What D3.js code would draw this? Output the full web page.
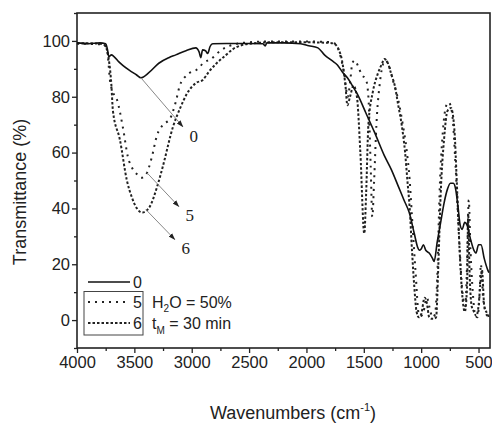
<!DOCTYPE html>
<html>
<head>
<meta charset="utf-8">
<script src="https://cdn.jsdelivr.net/npm/d3@7"></script>
<style>
  body { margin: 0; background: #fff; }
  svg { display: block; font-family: "Liberation Sans", Arial, sans-serif; }
  svg text { fill: #222; }
  .axis text { font-size: 16.5px; }
  .axis path, .axis line { stroke: #222; stroke-width: 1.3px; }
</style>
</head>
<body>
<svg id="main" width="492" height="424"></svg>
<script>
// spectra: [wavenumber (cm-1), transmittance (%)]
var sample0 = [
  [4000, 99.3], [3900, 99.0], [3800, 99.3], [3750, 99.0], [3735, 97], [3722, 94.3],
  [3700, 95], [3680, 94.5], [3635, 92.5], [3548, 89.6], [3480, 87.8], [3443, 86.8],
  [3374, 88.6], [3287, 92], [3200, 94], [3139, 95], [3050, 96.5], [2965, 97.5],
  [2935, 96], [2922, 94], [2905, 96.8], [2880, 96.5], [2861, 95.5], [2840, 98],
  [2817, 99], [2700, 99.1], [2500, 99.1], [2380, 99], [2360, 98.2], [2345, 99.3],
  [2200, 99.3], [2050, 99], [1980, 98.3], [1900, 97.5], [1843, 95], [1780, 93],
  [1730, 91.4], [1680, 88.5], [1643, 86.8], [1600, 84], [1557, 81], [1480, 74],
  [1409, 67.5], [1322, 59], [1261, 54], [1200, 48], [1150, 43], [1104, 38.5],
  [1060, 31], [1030, 26], [1017, 25], [1000, 25.5], [980, 27], [960, 25], [930, 24],
  [900, 22], [887, 21], [860, 28], [830, 35], [800, 42], [770, 47], [745, 49],
  [720, 49], [700, 47], [680, 41], [660, 34], [643, 32.5], [620, 35], [600, 34],
  [570, 29], [540, 25], [522, 24], [500, 27], [478, 27], [450, 22], [420, 18], [409, 17]
];

var sample5 = [
  [4000, 99], [3800, 98.8], [3760, 98.5], [3735, 96], [3713, 86], [3690, 82],
  [3652, 79], [3600, 69], [3557, 58.6], [3513, 54], [3470, 52], [3440, 51],
  [3400, 52], [3350, 58], [3304, 66], [3250, 70], [3191, 72], [3140, 78],
  [3104, 84], [3060, 87], [3017, 88.6], [2960, 89.6], [2900, 92], [2817, 94],
  [2750, 96.5], [2650, 98.5], [2500, 99.5], [2300, 99.8], [2000, 99.8],
  [1800, 99.6], [1750, 99], [1700, 94], [1670, 88], [1640, 80], [1620, 85],
  [1600, 92], [1580, 93], [1550, 91], [1520, 88], [1480, 86], [1460, 80],
  [1440, 55], [1426, 37], [1410, 50], [1390, 70], [1360, 85], [1330, 92],
  [1310, 93], [1280, 91], [1240, 85], [1200, 79], [1160, 70], [1130, 62],
  [1100, 50], [1080, 37], [1050, 18], [1020, 2], [1000, 1.5], [980, 3],
  [950, 8], [930, 5], [900, 1], [880, 2], [860, 15], [840, 45], [810, 68],
  [780, 77], [760, 78], [730, 74], [700, 55], [670, 30], [640, 10], [615, 5],
  [600, 20], [585, 43], [570, 25], [550, 10], [530, 2], [510, 1], [490, 10],
  [480, 20], [460, 8], [430, 2], [410, 1]
];

var sample6 = [
  [4000, 99.2], [3800, 99], [3760, 98.5], [3735, 96], [3700, 84], [3687, 75],
  [3626, 64.6], [3565, 50], [3522, 44], [3478, 40], [3430, 38.5], [3400, 39],
  [3365, 40.7], [3300, 48], [3252, 55], [3165, 69], [3100, 76], [3043, 81],
  [2960, 85], [2904, 86], [2850, 89], [2783, 92], [2700, 95], [2643, 97],
  [2496, 99], [2300, 99.5], [2000, 99.5], [1800, 99.3], [1760, 99], [1720, 97],
  [1690, 93], [1660, 84], [1643, 77], [1620, 80], [1590, 84], [1560, 80],
  [1530, 60], [1496, 31], [1480, 45], [1460, 70], [1420, 82], [1380, 88],
  [1340, 92], [1322, 93.5], [1290, 92], [1260, 88], [1230, 84], [1200, 77],
  [1170, 70], [1140, 60], [1120, 50], [1100, 40], [1080, 25], [1060, 12],
  [1040, 3], [1020, 1], [1000, 2], [970, 8], [950, 6], [930, 1], [910, 0.5],
  [890, 0.5], [870, 1], [850, 20], [830, 45], [800, 65], [770, 75], [740, 76],
  [710, 68], [690, 50], [665, 25], [640, 8], [620, 3], [600, 12], [590, 38],
  [580, 20], [560, 5], [540, 3], [520, 1.5], [500, 5], [480, 15], [470, 18],
  [450, 5], [420, 2], [410, 1]
];

var xTicks = [4000, 3500, 3000, 2500, 2000, 1500, 1000, 500];
var xMinor = [3750, 3250, 2750, 2250, 1750, 1250, 750];
var yTicks = [0, 20, 40, 60, 80, 100];
var yMinor = [-10, 10, 30, 50, 70, 90, 110];

// arrows: [from wn, from T, to wn, to T, label]
var arrows = [
  [3443, 86.8, 3078, 69.3, "0"],
  [3391, 52.8, 3113, 40.7, "5"],
  [3400, 39.6, 3148, 28.9, "6"]
];

var svg = d3.select("#main");
var margin = { left: 77, top: 13, right: 2, bottom: 76 };
var width = 492 - margin.left - margin.right;
var height = 424 - margin.top - margin.bottom;

var x = d3.scaleLinear().domain([4000, 400]).range([0, width]);
var y = d3.scaleLinear().domain([-10, 110]).range([height, 0]);

var g = svg.append("g").attr("transform", "translate(" + margin.left + "," + margin.top + ")");

svg.append("defs").append("marker")
  .attr("id", "head")
  .attr("viewBox", "0 0 10 10")
  .attr("refX", 9).attr("refY", 5)
  .attr("markerWidth", 7).attr("markerHeight", 7)
  .attr("orient", "auto")
  .append("path").attr("d", "M0,1.5L10,5L0,8.5Z").attr("fill", "#222");

// axes
g.append("g").attr("class", "axis").attr("transform", "translate(0," + height + ")")
  .call(d3.axisBottom(x).tickValues(xTicks).tickSize(5).tickPadding(3).tickFormat(d3.format("d")));
g.append("g").attr("class", "axis").attr("transform", "translate(0," + height + ")")
  .call(d3.axisBottom(x).tickValues(xMinor).tickSize(3).tickFormat(""));
g.append("g").attr("class", "axis")
  .call(d3.axisLeft(y).tickValues(yTicks).tickSize(5).tickPadding(2));
g.append("g").attr("class", "axis")
  .call(d3.axisLeft(y).tickValues(yMinor).tickSize(3).tickFormat(""));
g.selectAll(".axis path.domain").remove();

g.append("rect")
  .attr("width", width).attr("height", height)
  .attr("fill", "none").attr("stroke", "#222").attr("stroke-width", 1.6);

// curves
var line = d3.line()
  .x(function(d) { return x(d[0]); })
  .y(function(d) { return y(d[1]); })
  .curve(d3.curveMonotoneX);

var plot = g.append("g");
plot.append("path").datum(sample6).attr("d", line)
  .attr("fill", "none").attr("stroke", "#222").attr("stroke-width", 2)
  .attr("stroke-dasharray", "2.5,2");
plot.append("path").datum(sample5).attr("d", line)
  .attr("fill", "none").attr("stroke", "#222").attr("stroke-width", 2)
  .attr("stroke-dasharray", "2,5");
plot.append("path").datum(sample0).attr("d", line)
  .attr("fill", "none").attr("stroke", "#111").attr("stroke-width", 1.6);

// pointers
arrows.forEach(function(a) {
  g.append("line")
    .attr("x1", x(a[0])).attr("y1", y(a[1]))
    .attr("x2", x(a[2])).attr("y2", y(a[3]))
    .attr("stroke", "#888").attr("stroke-width", 1)
    .attr("marker-end", "url(#head)");
  g.append("text")
    .attr("x", x(a[2]) + 11).attr("y", y(a[3]) + 15)
    .attr("text-anchor", "middle")
    .style("font-family", "'Liberation Serif', 'Times New Roman', serif")
    .style("font-size", "17px")
    .text(a[4]);
});

// legend
var leg = svg.append("g").attr("font-size", "16px");
leg.append("line").attr("x1", 88).attr("x2", 130).attr("y1", 282).attr("y2", 282)
  .attr("stroke", "#111").attr("stroke-width", 1.6);
leg.append("line").attr("x1", 88).attr("x2", 130).attr("y1", 302).attr("y2", 302)
  .attr("stroke", "#222").attr("stroke-width", 2).attr("stroke-dasharray", "2,5");
leg.append("line").attr("x1", 88).attr("x2", 130).attr("y1", 323).attr("y2", 323)
  .attr("stroke", "#222").attr("stroke-width", 2).attr("stroke-dasharray", "2.5,2");
leg.append("text").attr("x", 133).attr("y", 288).text("0");
leg.append("text").attr("x", 133).attr("y", 308).text("5");
leg.append("text").attr("x", 133).attr("y", 329).text("6");
leg.append("rect").attr("x", 84).attr("y", 291.5).attr("width", 59).attr("height", 43.5)
  .attr("fill", "none").attr("stroke", "#444").attr("stroke-width", 1);

var t1 = leg.append("text").attr("x", 152).attr("y", 308);
t1.append("tspan").text("H");
t1.append("tspan").attr("font-size", "10px").attr("dy", 4).text("2");
t1.append("tspan").attr("dy", -4).text("O = 50%");
var t2 = leg.append("text").attr("x", 152).attr("y", 329);
t2.append("tspan").text("t");
t2.append("tspan").attr("font-size", "10px").attr("dy", 5).text("M");
t2.append("tspan").attr("dy", -5).text(" = 30 min");

// axis titles
svg.append("text")
  .attr("transform", "translate(26,192) rotate(-90)")
  .attr("text-anchor", "middle").attr("font-size", "18px")
  .text("Transmittance (%)");
var xt = svg.append("text")
  .attr("x", 293).attr("y", 419)
  .attr("text-anchor", "middle").attr("font-size", "18px");
xt.append("tspan").text("Wavenumbers (cm");
xt.append("tspan").attr("font-size", "11px").attr("dy", -8).text("-1");
xt.append("tspan").attr("dy", 8).text(")");
</script>
</body>
</html>
